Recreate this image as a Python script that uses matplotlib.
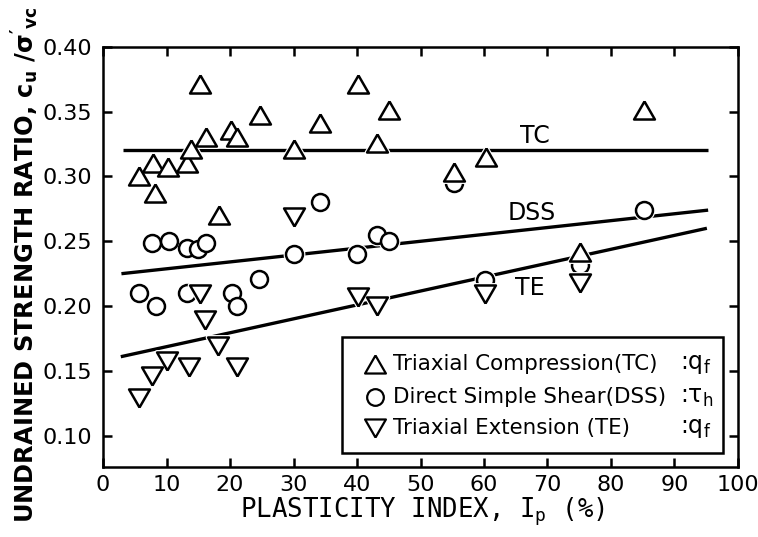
import numpy as np
import matplotlib.pyplot as plt
from matplotlib.patches import Rectangle

# data
tc_ip = [5.7, 7.8, 8.2, 10.3, 13.3, 13.8, 15.2, 16.2, 18.2, 20.1, 21.1,
         24.7, 30.1, 34.1, 40.2, 43.1, 45.1, 55.3, 60.3, 75.1, 85.2]
tc_ratio = [0.300, 0.310, 0.287, 0.307, 0.310, 0.321, 0.371, 0.330, 0.270, 0.336, 0.330,
            0.347, 0.321, 0.341, 0.371, 0.326, 0.351, 0.303, 0.315, 0.242, 0.351]

dss_ip = [5.7, 7.7, 8.3, 10.4, 13.3, 13.3, 14.9, 16.2, 20.3, 21.1, 24.6,
          30.0, 34.1, 40.0, 43.2, 45.1, 55.3, 60.2, 75.1, 85.2]
dss_ratio = [0.210, 0.249, 0.200, 0.2505, 0.2446, 0.210, 0.2439, 0.249, 0.210, 0.200, 0.221,
             0.240, 0.280, 0.240, 0.255, 0.250, 0.295, 0.220, 0.232, 0.274]

te_ip = [5.6, 7.7, 10.1, 13.6, 15.3, 16.1, 18.1, 21.1, 30.1, 40.1, 43.1, 60.2, 75.1]
te_ratio = [0.129, 0.146, 0.158, 0.153, 0.209, 0.189, 0.169, 0.153, 0.269, 0.207, 0.200,
            0.209, 0.218]

# trend lines (end points)
tc_line_ip = [3.2, 95.3]
tc_line_ratio = [0.320, 0.320]
dss_line_ip = [2.9, 95.3]
dss_line_ratio = [0.225, 0.274]
te_line_ip = [2.8, 95.1]
te_line_ratio = [0.161, 0.260]

line_names = ['TC', 'DSS', 'TE']
line_label_ip = [68.0, 67.5, 67.2]
line_label_ratio = [0.331, 0.272, 0.214]

legend_labels = ['Triaxial Compression(TC)', 'Direct Simple Shear(DSS)', 'Triaxial Extension (TE)']
legend_suffix = [r':q$_\mathregular{f}$', r':$\tau_\mathregular{h}$', r':q$_\mathregular{f}$']

x_ticks = np.arange(0, 101, 10)
y_ticks = [0.10, 0.15, 0.20, 0.25, 0.30, 0.35, 0.40]

TRI_UP = [(0, 0.433), (-0.5, -0.433), (0.5, -0.433), (0, 0.433)]
TRI_DOWN = [(0, -0.433), (-0.5, 0.433), (0.5, 0.433), (0, -0.433)]

plt.rcParams['font.family'] = ['DejaVu Sans']
plt.rcParams['mathtext.default'] = 'regular'

fig = plt.figure(figsize=(7.58, 5.37), dpi=100)
ax = fig.add_axes([0.1359, 0.1304, 0.8377, 0.7827])

# lines
for xs, ys in [(tc_line_ip, tc_line_ratio), (dss_line_ip, dss_line_ratio), (te_line_ip, te_line_ratio)]:
    ax.plot(xs, ys, color='black', lw=2.4, solid_capstyle='butt', zorder=2)

def draw_points(xs, ys, marker, ms, z):
    # white halo first so the trend lines break around the symbols
    ax.plot(xs, ys, ls='none', marker=marker, ms=ms, mfc='white', mec='white',
            mew=3.5, zorder=z)
    ax.plot(xs, ys, ls='none', marker=marker, ms=ms, mfc='white', mec='black',
            mew=1.8, zorder=z + 0.1)

draw_points(dss_ip, dss_ratio, 'o', 12.2, 3)
draw_points(te_ip, te_ratio, TRI_DOWN, 15, 4)
draw_points(tc_ip, tc_ratio, TRI_UP, 15, 5)

for name, xi, yi in zip(line_names, line_label_ip, line_label_ratio):
    ax.text(xi, yi, name, fontsize=17, ha='center', va='center', zorder=6)

# legend box drawn by hand (axes fraction)
ax.add_patch(Rectangle((0.376, 0.033), 0.600, 0.276, transform=ax.transAxes,
                       fill=True, fc='white', ec='black', lw=1.8, zorder=7))
leg_rows = [0.246, 0.166, 0.093]
leg_markers = [TRI_UP, 'o', TRI_DOWN]
leg_ms = [15, 12, 15]
for lab, suf, yr, mk, ms in zip(legend_labels, legend_suffix, leg_rows, leg_markers, leg_ms):
    ax.plot([0.428], [yr], transform=ax.transAxes, ls='none', marker=mk, ms=ms,
            mfc='white', mec='black', mew=1.6, zorder=8, clip_on=False)
    ax.text(0.456, yr, lab, transform=ax.transAxes, fontsize=15.4, ha='left', va='center', zorder=8)
    ax.text(0.908, yr, suf, transform=ax.transAxes, fontsize=17, ha='left', va='center', zorder=8)

ax.set_xlim(0, 100)
ax.set_ylim(0.076, 0.40)
ax.set_xticks(x_ticks)
ax.set_xticklabels([str(v) for v in x_ticks])
ax.set_yticks(y_ticks)
ax.set_yticklabels(['%.2f' % v for v in y_ticks])

for s in ax.spines.values():
    s.set_linewidth(1.8)
ax.tick_params(direction='in', length=6.5, width=1.8, top=True, right=True)
ax.tick_params(axis='x', pad=6)
ax.tick_params(axis='y', pad=8)
for lab in ax.get_xticklabels() + ax.get_yticklabels():
    lab.set_fontsize(16)

ax.set_xlabel(r'PLASTICITY INDEX, I$_\mathregular{p}$ (%)', fontsize=18.5,
              family='DejaVu Sans Mono')
ax.xaxis.set_label_coords(0.504, -0.107)
ax.xaxis.label.set_va('center')
ax.set_ylabel(r"UNDRAINED STRENGTH RATIO, c$_\mathregular{u}$ /$\sigma'_\mathregular{vc}$",
              fontsize=17.4, fontweight='bold')
ax.yaxis.set_label_coords(-0.122, 0.481)
ax.yaxis.label.set_va('center')

fig.savefig('out.png', dpi=100)
